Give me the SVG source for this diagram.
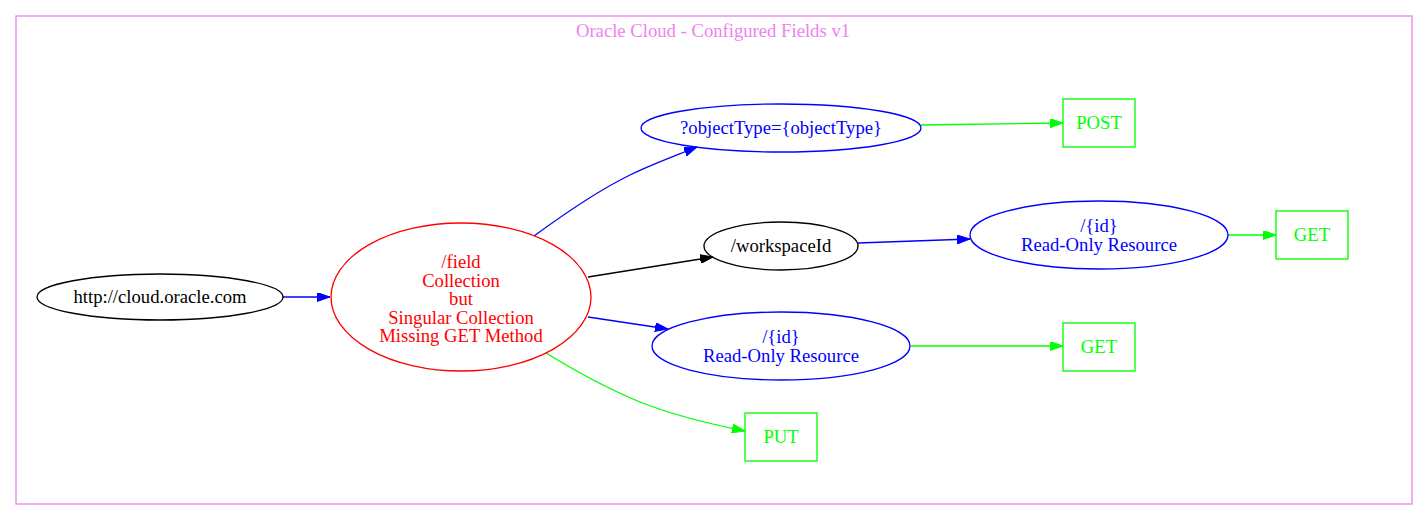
<svg xmlns="http://www.w3.org/2000/svg" width="1428" height="520" viewBox="0 0 1428 520">
<style>
text{font-family:"Liberation Serif","Times New Roman",serif;font-size:18.67px;text-anchor:middle}
.e{fill:none;stroke-width:1.33}
.n{fill:none;stroke-width:1.33}
</style>
<defs>
<marker id="ab" viewBox="0 0 13 9" refX="13" refY="4.5" markerWidth="13" markerHeight="9" markerUnits="userSpaceOnUse" orient="auto"><path d="M0,0L13,4.5L0,9z" fill="#0000ff" stroke="#0000ff"/></marker>
<marker id="ak" viewBox="0 0 13 9" refX="13" refY="4.5" markerWidth="13" markerHeight="9" markerUnits="userSpaceOnUse" orient="auto"><path d="M0,0L13,4.5L0,9z" fill="#000" stroke="#000"/></marker>
<marker id="ag" viewBox="0 0 13 9" refX="13" refY="4.5" markerWidth="13" markerHeight="9" markerUnits="userSpaceOnUse" orient="auto"><path d="M0,0L13,4.5L0,9z" fill="#00ff00" stroke="#00ff00"/></marker>
</defs>
<rect width="1428" height="520" fill="#fff"/>
<g id="cluster">
<rect x="16" y="16" width="1396" height="488" fill="none" stroke="#ee82ee" stroke-width="1.33"/>
<text x="713" y="37" fill="#ee82ee">Oracle Cloud - Configured Fields v1</text>
</g>
<g id="edges">
<path class="e" stroke="#0000ff" marker-end="url(#ab)" d="M283,297L330,297"/>
<path class="e" stroke="#0000ff" marker-end="url(#ab)" d="M534,236C560,217 595,192 630,175C650,165 672,157 697,147"/>
<path class="e" stroke="#000" marker-end="url(#ak)" d="M588,277L713,257"/>
<path class="e" stroke="#0000ff" marker-end="url(#ab)" d="M588,317L668,329"/>
<path class="e" stroke="#00ff00" marker-end="url(#ag)" d="M546,353C572,369 606,388 640,402C670,414 705,423 745,431"/>
<path class="e" stroke="#00ff00" marker-end="url(#ag)" d="M921,125L1063,123"/>
<path class="e" stroke="#0000ff" marker-end="url(#ab)" d="M858,243L970,239"/>
<path class="e" stroke="#00ff00" marker-end="url(#ag)" d="M1228,235L1276,235"/>
<path class="e" stroke="#00ff00" marker-end="url(#ag)" d="M911,346L1063,346"/>
</g>
<g id="root">
<ellipse class="n" cx="160" cy="297" rx="123" ry="23" stroke="#000"/>
<text x="160" y="303" fill="#000">http://cloud.oracle.com</text>
</g>
<g id="field">
<ellipse class="n" cx="461" cy="297" rx="130" ry="74" stroke="#ff0000"/>
<text fill="#ff0000"><tspan x="461" y="268">/field</tspan><tspan x="461" y="287">Collection</tspan><tspan x="461" y="305">but</tspan><tspan x="461" y="324">Singular Collection</tspan><tspan x="461" y="342">Missing GET Method</tspan></text>
</g>
<g id="objectType">
<ellipse class="n" cx="781" cy="128" rx="140" ry="24" stroke="#0000ff"/>
<text x="781" y="134" fill="#0000ff">?objectType={objectType}</text>
</g>
<g id="workspaceId">
<ellipse class="n" cx="781" cy="246" rx="77" ry="24" stroke="#000"/>
<text x="781" y="252" fill="#000">/workspaceId</text>
</g>
<g id="id_lower">
<ellipse class="n" cx="781" cy="346" rx="129" ry="34" stroke="#0000ff"/>
<text fill="#0000ff"><tspan x="781" y="343">/{id}</tspan><tspan x="781" y="362">Read-Only Resource</tspan></text>
</g>
<g id="put">
<rect class="n" x="745" y="413" width="72" height="48" stroke="#00ff00"/>
<text x="781" y="443" fill="#00ff00">PUT</text>
</g>
<g id="post">
<rect class="n" x="1063" y="99" width="72" height="48" stroke="#00ff00"/>
<text x="1099" y="129" fill="#00ff00">POST</text>
</g>
<g id="get_lower">
<rect class="n" x="1063" y="323" width="72" height="48" stroke="#00ff00"/>
<text x="1099" y="353" fill="#00ff00">GET</text>
</g>
<g id="id_upper">
<ellipse class="n" cx="1099" cy="235" rx="129" ry="34" stroke="#0000ff"/>
<text fill="#0000ff"><tspan x="1099" y="232">/{id}</tspan><tspan x="1099" y="251">Read-Only Resource</tspan></text>
</g>
<g id="get_upper">
<rect class="n" x="1276" y="211" width="72" height="48" stroke="#00ff00"/>
<text x="1312" y="241" fill="#00ff00">GET</text>
</g>
</svg>
